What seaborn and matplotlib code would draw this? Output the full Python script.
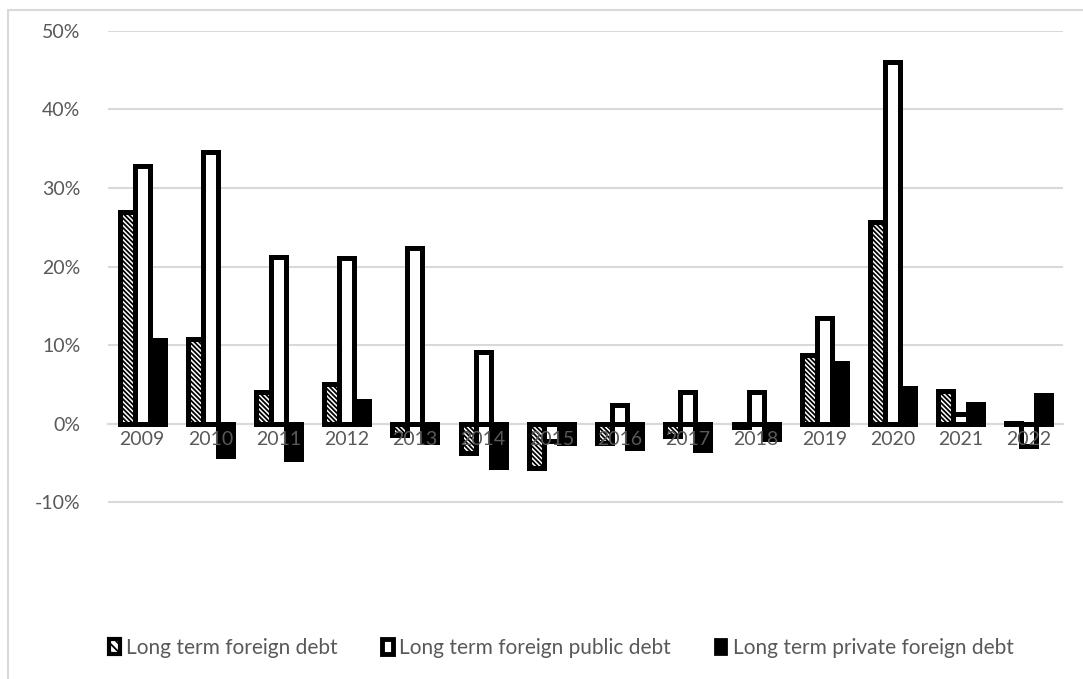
import numpy as np
import pandas as pd
import matplotlib
matplotlib.use("Agg")
import matplotlib.pyplot as plt
from matplotlib.patches import Patch
from matplotlib.lines import Line2D
from matplotlib.ticker import PercentFormatter
import seaborn as sns

years = [str(y) for y in range(2009, 2023)]
series = ["Long term foreign debt", "Long term foreign public debt", "Long term private foreign debt"]
foreign_debt = [27.0, 10.8, 4.1, 5.1, -1.4, -3.7, -5.6, -2.4, -1.5, -0.4, 8.8, 25.7, 4.2, 0.1]
public_debt = [32.8, 34.6, 21.2, 21.1, 22.3, 9.1, -2.2, 2.4, 4.1, 4.1, 13.5, 46.0, 1.2, -2.8]
private_debt = [10.7, -4.1, -4.5, 2.9, -2.3, -5.5, -2.5, -3.1, -3.3, -1.9, 7.7, 4.6, 2.5, 3.6]

df = pd.DataFrame({
    "year": years * 3,
    "series": np.repeat(series, len(years)),
    "value": np.array(foreign_debt + public_debt + private_debt) / 100,
})

sns.set_style("white")
plt.rcParams["font.family"] = ["Lato", "DejaVu Sans"]
plt.rcParams["axes.unicode_minus"] = False
plt.rcParams["hatch.color"] = "black"
plt.rcParams["hatch.linewidth"] = 1.3

grey_text = "#595959"
grid_col = "#d9d9d9"

fig = plt.figure(figsize=(10.83, 6.79), dpi=100)
ax = fig.add_axes([108 / 1083, 1 - 581 / 679, (1063 - 108) / 1083, (581 - 30.7) / 679])

sns.barplot(data=df, x="year", y="value", hue="series", palette=["white", "white", "black"],
            edgecolor="black", linewidth=3.6, width=0.66, ax=ax, legend=False, zorder=3)
for bar in ax.containers[0]:
    bar.set_hatch("\\\\\\\\\\\\\\")

ax.set_ylim(-0.2, 0.5)
ax.set_yticks(np.arange(-0.1, 0.51, 0.1))
ax.yaxis.set_major_formatter(PercentFormatter(1.0, decimals=0))
ax.grid(axis="y", color=grid_col, linewidth=1.5, zorder=0)
ax.set_axisbelow(True)
for s in ["top", "right", "left"]:
    ax.spines[s].set_visible(False)
ax.spines["bottom"].set_position(("data", 0))
ax.spines["bottom"].set_color(grid_col)
ax.spines["bottom"].set_linewidth(1.5)
ax.spines["bottom"].set_zorder(2)
ax.xaxis.set_zorder(5)
ax.tick_params(axis="both", length=0, labelsize=14, labelcolor=grey_text)
ax.tick_params(axis="x", pad=5)
ax.tick_params(axis="y", pad=20)
ax.set_xlabel("")
ax.set_ylabel("")

handles = [
    Patch(facecolor="white", edgecolor="black", hatch="\\\\\\\\", linewidth=3),
    Patch(facecolor="white", edgecolor="black", linewidth=3.5),
    Patch(facecolor="black", edgecolor="black", linewidth=2),
]
fig.legend(handles, series, loc="center", bbox_to_anchor=(561 / 1083, 1 - 648 / 679), ncol=3,
           frameon=False, fontsize=15, labelcolor=grey_text, handlelength=0.55, handleheight=0.75,
           handletextpad=0.3, columnspacing=2.1)

fig.add_artist(Line2D([8 / 1083, 8 / 1083], [0, 1 - 10 / 679], color=grid_col, linewidth=1.5))
fig.add_artist(Line2D([8 / 1083, 1], [1 - 10 / 679, 1 - 10 / 679], color=grid_col, linewidth=1.5))

fig.savefig("out.png", dpi=100)
